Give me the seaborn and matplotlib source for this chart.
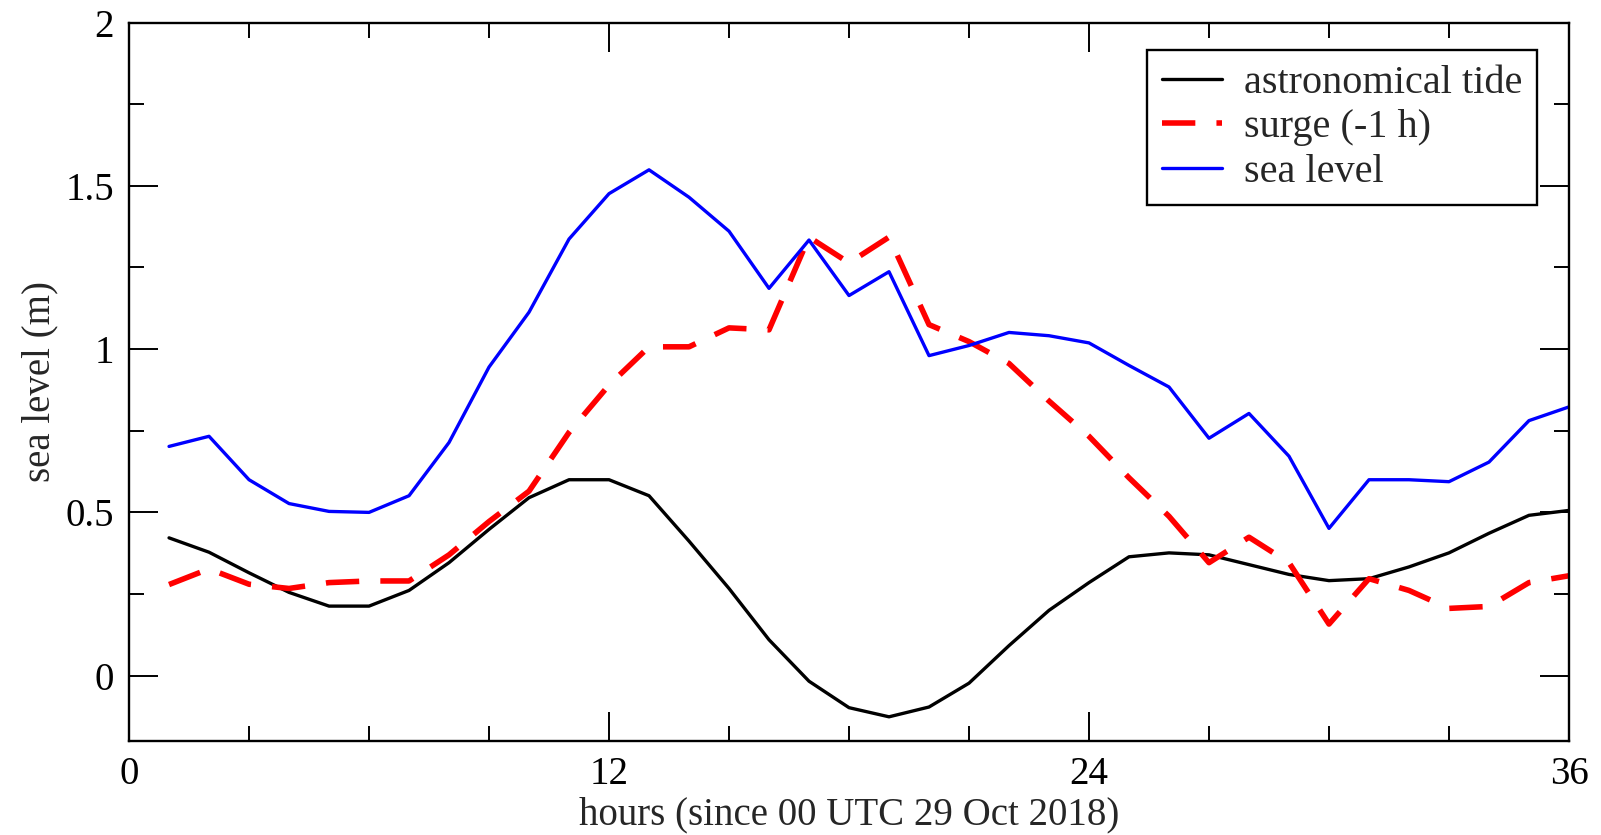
import matplotlib
matplotlib.use("Agg")
import matplotlib.pyplot as plt
from matplotlib.ticker import MultipleLocator, FuncFormatter
import seaborn as sns
import pandas as pd

hours = list(range(1, 37))
tide = [0.422, 0.378, 0.315, 0.255, 0.213, 0.213, 0.261, 0.346, 0.448, 0.545,
        0.600, 0.600, 0.551, 0.412, 0.267, 0.110, -0.017, -0.098, -0.126, -0.096,
        -0.023, 0.092, 0.200, 0.285, 0.364, 0.376, 0.370, 0.340, 0.310, 0.291,
        0.297, 0.333, 0.376, 0.436, 0.491, 0.506]
surge = [0.279, 0.327, 0.280, 0.267, 0.285, 0.290, 0.290, 0.370, 0.472, 0.565,
         0.745, 0.890, 1.007, 1.007, 1.065, 1.059, 1.343, 1.264, 1.343, 1.075,
         1.023, 0.956, 0.841, 0.733, 0.606, 0.488, 0.346, 0.424, 0.346, 0.158,
         0.297, 0.261, 0.206, 0.212, 0.285, 0.306]
sea = [0.702, 0.733, 0.600, 0.527, 0.503, 0.500, 0.551, 0.714, 0.945, 1.113,
       1.337, 1.476, 1.549, 1.465, 1.361, 1.186, 1.334, 1.164, 1.237, 0.980,
       1.011, 1.051, 1.041, 1.019, 0.950, 0.884, 0.727, 0.803, 0.672, 0.451,
       0.600, 0.600, 0.594, 0.654, 0.781, 0.823]
labels = ["astronomical tide", "surge (-1 h)", "sea level"]

df = pd.DataFrame({"hours": hours, "tide": tide, "surge": surge, "sea": sea})

sns.set_style("ticks")
plt.rcParams["font.family"] = ["Liberation Serif", "DejaVu Serif"]

fig = plt.figure(figsize=(16.01, 8.35), dpi=100)
ax = fig.add_axes([0.0806, 0.1126, 0.8994, 0.8604])

sns.lineplot(data=df, x="hours", y="tide", ax=ax, color="black", lw=2.4, label=labels[0])
sns.lineplot(data=df, x="hours", y="surge", ax=ax, color="#ff0000", lw=4.0,
             linestyle=(0, (6.0, 3.8)), label=labels[1])
sns.lineplot(data=df, x="hours", y="sea", ax=ax, color="#0000ff", lw=2.4, label=labels[2])

ax.set_xlim(0, 36)
ax.set_ylim(-0.2, 2)
ax.xaxis.set_major_locator(MultipleLocator(12))
ax.xaxis.set_minor_locator(MultipleLocator(3))
ax.yaxis.set_major_locator(MultipleLocator(0.5))
ax.yaxis.set_minor_locator(MultipleLocator(0.25))
ax.yaxis.set_major_formatter(FuncFormatter(lambda v, p: "%g" % v))
ax.tick_params(which="both", direction="in", top=True, right=True, width=1.4,
               colors="black", labelsize=28)
ax.tick_params(which="major", length=21, pad=11)
ax.tick_params(which="minor", length=11)
for s in ax.spines.values():
    s.set_linewidth(1.7)
    s.set_color("black")

ax.set_xlabel("hours (since 00 UTC 29 Oct 2018)", fontsize=28, labelpad=2)
ax.set_ylabel("sea level (m)", fontsize=28, labelpad=5)

leg = ax.legend(loc="upper right", bbox_to_anchor=(0.9778, 0.9617), fontsize=29,
                frameon=True, fancybox=False, edgecolor="black", framealpha=1,
                handlelength=1.5, handletextpad=0.55, borderpad=0.36,
                labelspacing=0.18, borderaxespad=0)
leg.get_frame().set_linewidth(1.7)

fig.savefig("out.png", dpi=100)
